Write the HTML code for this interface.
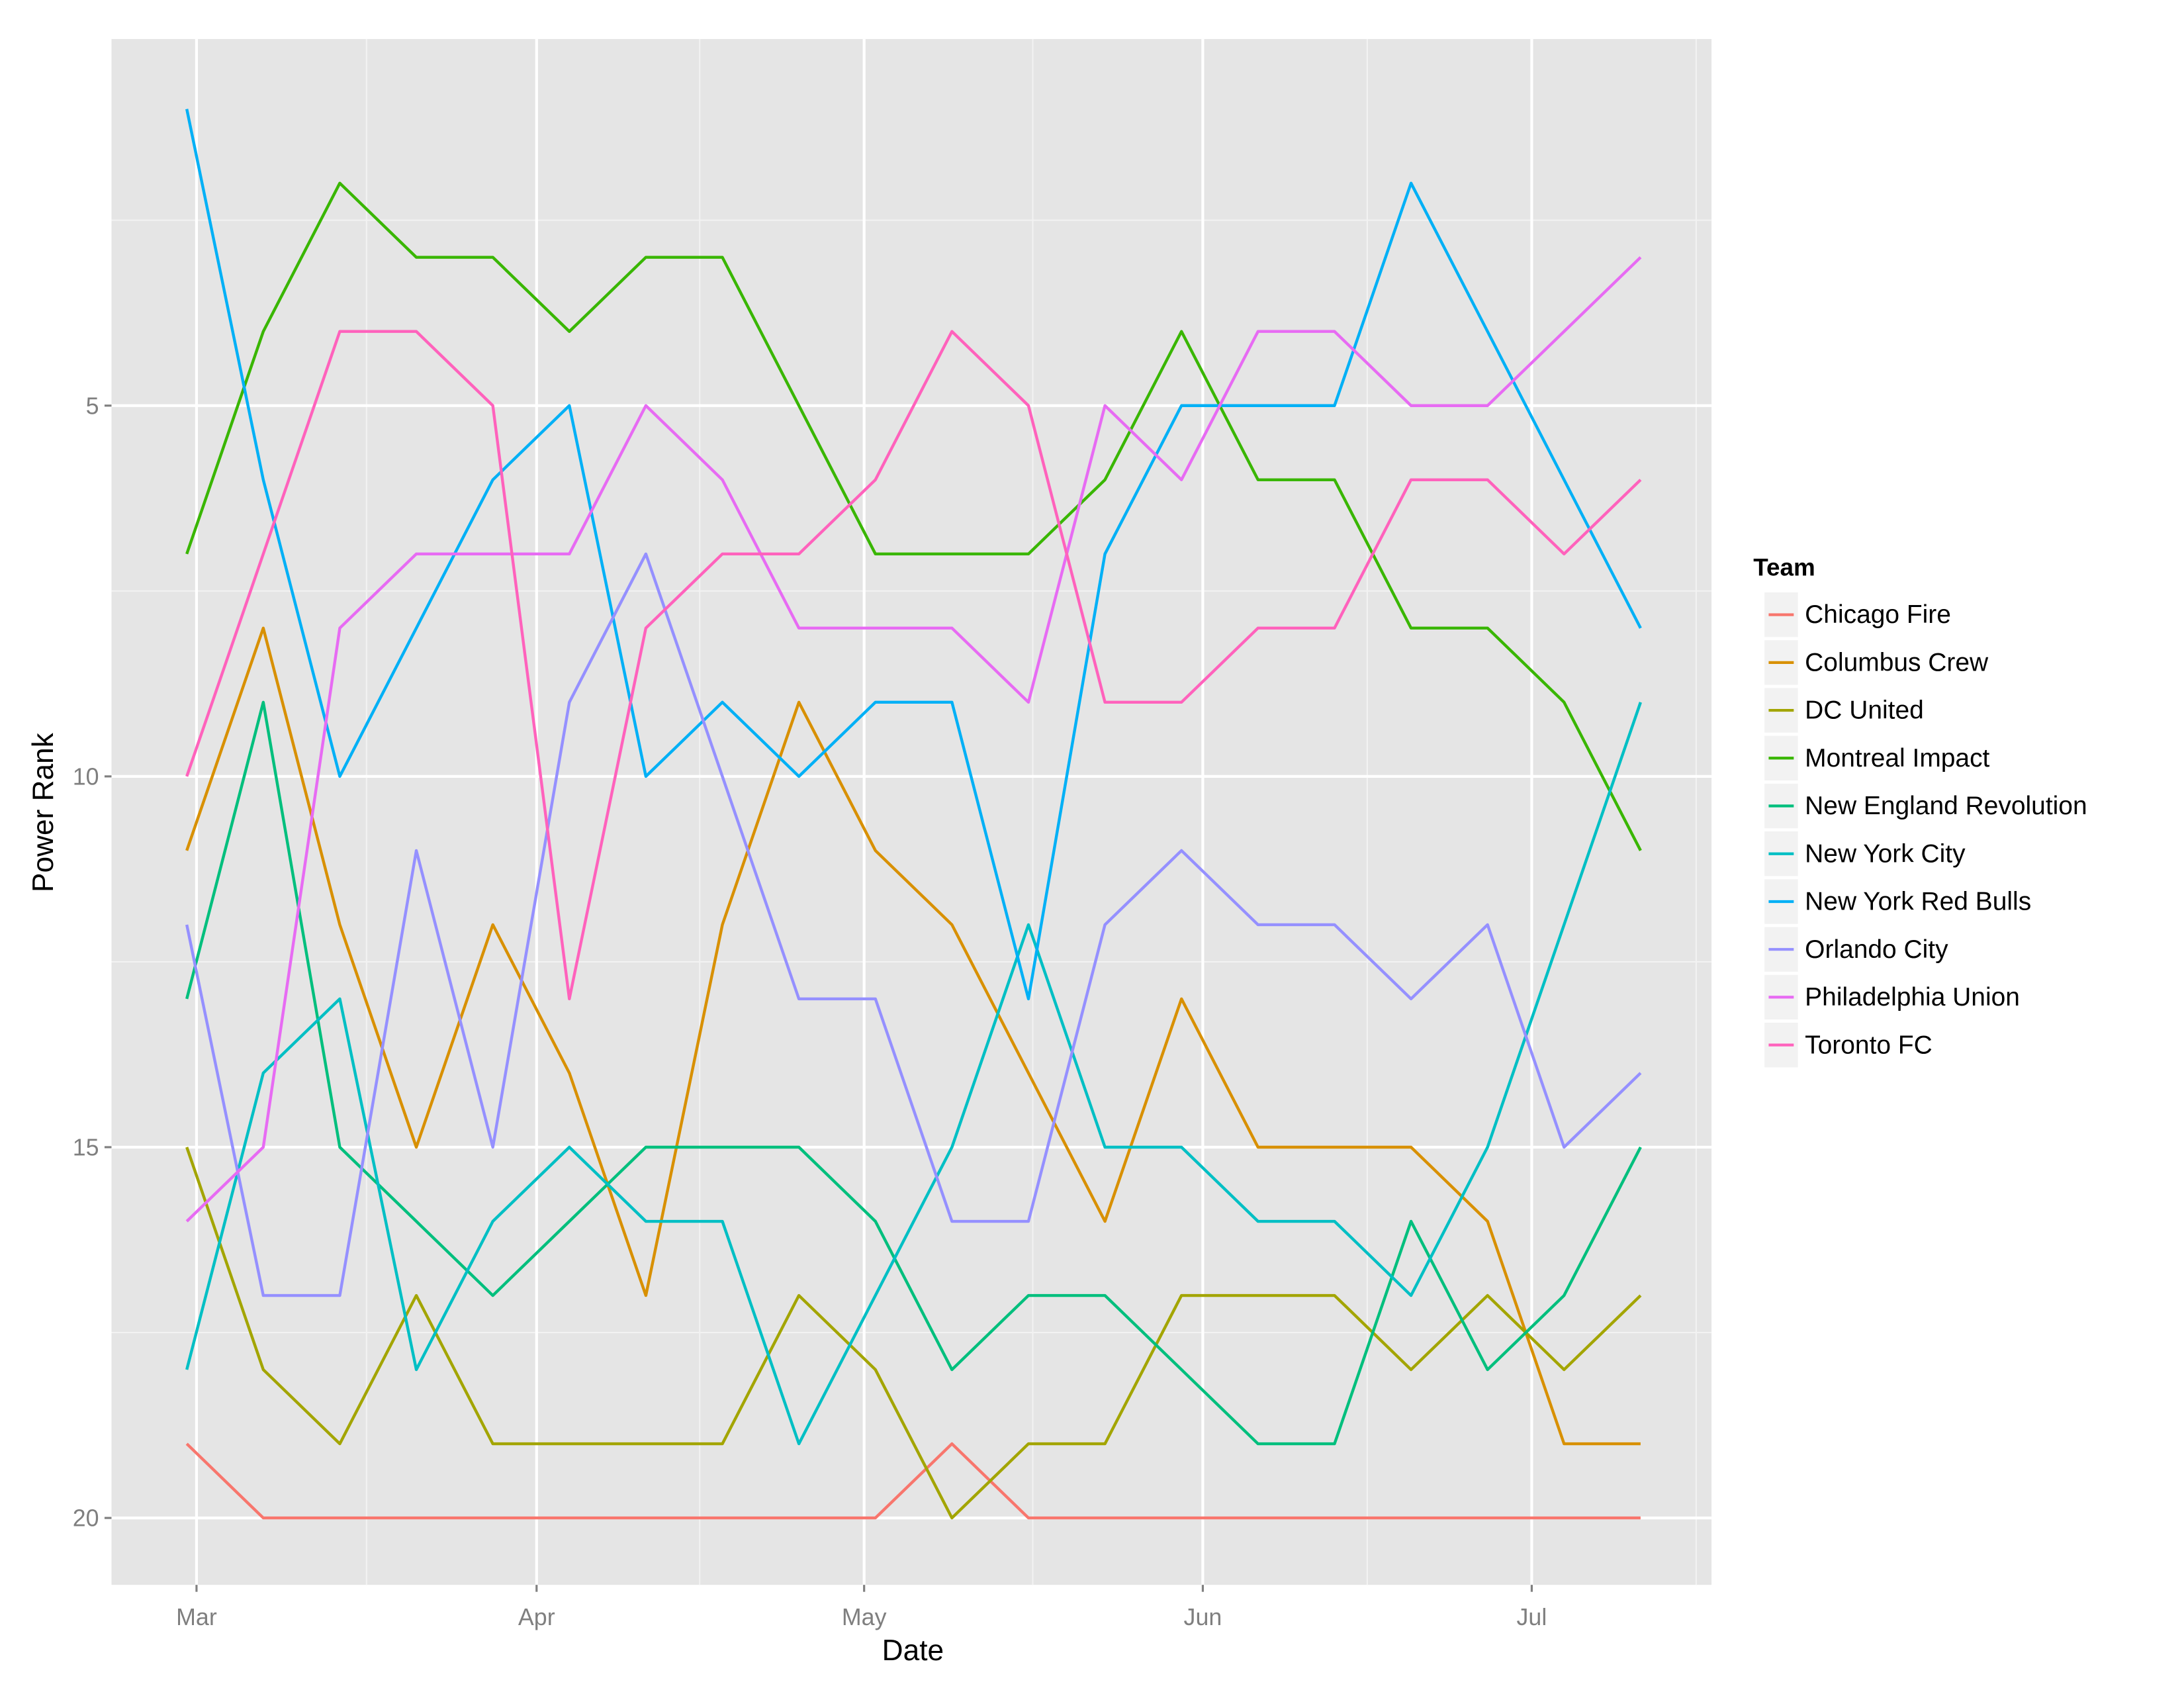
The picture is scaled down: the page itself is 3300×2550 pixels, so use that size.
<!DOCTYPE html>
<html><head><meta charset="utf-8"><style>html,body{margin:0;padding:0;background:#fff}svg{display:block}</style></head>
<body>
<svg width="3300" height="2550" viewBox="0 0 1567 1211" preserveAspectRatio="none" xmlns="http://www.w3.org/2000/svg" font-family="Liberation Sans, sans-serif">
<rect x="0" y="0" width="1584" height="1224" fill="#fff"/>
<rect x="80" y="28" width="1148" height="1109" fill="#e5e5e5"/>
<g stroke="#f2f2f2" stroke-width="1">
<line x1="80" x2="1228" y1="158" y2="158"/><line x1="80" x2="1228" y1="424" y2="424"/><line x1="80" x2="1228" y1="690" y2="690"/><line x1="80" x2="1228" y1="956" y2="956"/>
<line y1="28" y2="1137" x1="263" x2="263"/><line y1="28" y2="1137" x1="502" x2="502"/><line y1="28" y2="1137" x1="741" x2="741"/><line y1="28" y2="1137" x1="981" x2="981"/><line y1="28" y2="1137" x1="1217" x2="1217"/>
</g>
<g stroke="#fff" stroke-width="2">
<line x1="80" x2="1228" y1="291" y2="291"/><line x1="80" x2="1228" y1="557" y2="557"/><line x1="80" x2="1228" y1="823" y2="823"/><line x1="80" x2="1228" y1="1089" y2="1089"/>
<line y1="28" y2="1137" x1="141" x2="141"/><line y1="28" y2="1137" x1="385" x2="385"/><line y1="28" y2="1137" x1="620" x2="620"/><line y1="28" y2="1137" x1="863" x2="863"/><line y1="28" y2="1137" x1="1099" x2="1099"/>
</g>
<g transform="matrix(54.9,0,0,53.2,134,25)" fill="none" stroke-width="4.4" stroke-linejoin="round">
<polyline vector-effect="non-scaling-stroke" stroke="#F8766D" points="0,19 1,20 2,20 3,20 4,20 5,20 6,20 7,20 8,20 9,20 10,19 11,20 12,20 13,20 14,20 15,20 16,20 17,20 18,20 19,20"/>
<polyline vector-effect="non-scaling-stroke" stroke="#D89000" points="0,11 1,8 2,12 3,15 4,12 5,14 6,17 7,12 8,9 9,11 10,12 11,14 12,16 13,13 14,15 15,15 16,15 17,16 18,19 19,19"/>
<polyline vector-effect="non-scaling-stroke" stroke="#A3A500" points="0,15 1,18 2,19 3,17 4,19 5,19 6,19 7,19 8,17 9,18 10,20 11,19 12,19 13,17 14,17 15,17 16,18 17,17 18,18 19,17"/>
<polyline vector-effect="non-scaling-stroke" stroke="#39B600" points="0,7 1,4 2,2 3,3 4,3 5,4 6,3 7,3 8,5 9,7 10,7 11,7 12,6 13,4 14,6 15,6 16,8 17,8 18,9 19,11"/>
<polyline vector-effect="non-scaling-stroke" stroke="#00BF7D" points="0,13 1,9 2,15 3,16 4,17 5,16 6,15 7,15 8,15 9,16 10,18 11,17 12,17 13,18 14,19 15,19 16,16 17,18 18,17 19,15"/>
<polyline vector-effect="non-scaling-stroke" stroke="#00BFC4" points="0,18 1,14 2,13 3,18 4,16 5,15 6,16 7,16 8,19 9,17 10,15 11,12 12,15 13,15 14,16 15,16 16,17 17,15 18,12 19,9"/>
<polyline vector-effect="non-scaling-stroke" stroke="#00B0F6" points="0,1 1,6 2,10 3,8 4,6 5,5 6,10 7,9 8,10 9,9 10,9 11,13 12,7 13,5 14,5 15,5 16,2 17,4 18,6 19,8"/>
<polyline vector-effect="non-scaling-stroke" stroke="#9590FF" points="0,12 1,17 2,17 3,11 4,15 5,9 6,7 7,10 8,13 9,13 10,16 11,16 12,12 13,11 14,12 15,12 16,13 17,12 18,15 19,14"/>
<polyline vector-effect="non-scaling-stroke" stroke="#E76BF3" points="0,16 1,15 2,8 3,7 4,7 5,7 6,5 7,6 8,8 9,8 10,8 11,9 12,5 13,6 14,4 15,4 16,5 17,5 18,4 19,3"/>
<polyline vector-effect="non-scaling-stroke" stroke="#FF62BC" points="0,10 1,7 2,4 3,4 4,5 5,13 6,8 7,7 8,7 9,6 10,4 11,5 12,9 13,9 14,8 15,8 16,6 17,6 18,7 19,6"/>
</g>
<g stroke="#7f7f7f" stroke-width="1.5">
<line x1="75" x2="80" y1="291" y2="291"/><line x1="75" x2="80" y1="557" y2="557"/><line x1="75" x2="80" y1="823" y2="823"/><line x1="75" x2="80" y1="1089" y2="1089"/>
<line y1="1137" y2="1142" x1="141" x2="141"/><line y1="1137" y2="1142" x1="385" x2="385"/><line y1="1137" y2="1142" x1="620" x2="620"/><line y1="1137" y2="1142" x1="863" x2="863"/><line y1="1137" y2="1142" x1="1099" x2="1099"/>
</g>
<g fill="#7f7f7f" font-size="17" text-anchor="end">
<text x="71" y="297">5</text><text x="71" y="563">10</text><text x="71" y="829">15</text><text x="71" y="1095">20</text>
</g>
<g fill="#7f7f7f" font-size="17" text-anchor="middle">
<text x="141" y="1166">Mar</text><text x="385" y="1166">Apr</text><text x="620" y="1166">May</text><text x="863" y="1166">Jun</text><text x="1099" y="1166">Jul</text>
</g>
<text x="655" y="1191" font-size="21" text-anchor="middle">Date</text>
<text transform="translate(38,583) rotate(-90)" font-size="21" text-anchor="middle">Power Rank</text>
<text x="1258" y="413" font-size="17.5" font-weight="bold">Team</text>
<g font-size="18.5">
<g transform="translate(0,425)"><rect x="1266" width="24" height="32" fill="#f2f2f2"/><line x1="1269" x2="1287" y1="16" y2="16" stroke="#F8766D" stroke-width="2"/><text x="1295" y="22">Chicago Fire</text></g>
<g transform="translate(0,459.3)"><rect x="1266" width="24" height="32" fill="#f2f2f2"/><line x1="1269" x2="1287" y1="16" y2="16" stroke="#D89000" stroke-width="2"/><text x="1295" y="22">Columbus Crew</text></g>
<g transform="translate(0,493.6)"><rect x="1266" width="24" height="32" fill="#f2f2f2"/><line x1="1269" x2="1287" y1="16" y2="16" stroke="#A3A500" stroke-width="2"/><text x="1295" y="22">DC United</text></g>
<g transform="translate(0,527.9)"><rect x="1266" width="24" height="32" fill="#f2f2f2"/><line x1="1269" x2="1287" y1="16" y2="16" stroke="#39B600" stroke-width="2"/><text x="1295" y="22">Montreal Impact</text></g>
<g transform="translate(0,562.2)"><rect x="1266" width="24" height="32" fill="#f2f2f2"/><line x1="1269" x2="1287" y1="16" y2="16" stroke="#00BF7D" stroke-width="2"/><text x="1295" y="22">New England Revolution</text></g>
<g transform="translate(0,596.5)"><rect x="1266" width="24" height="32" fill="#f2f2f2"/><line x1="1269" x2="1287" y1="16" y2="16" stroke="#00BFC4" stroke-width="2"/><text x="1295" y="22">New York City</text></g>
<g transform="translate(0,630.8)"><rect x="1266" width="24" height="32" fill="#f2f2f2"/><line x1="1269" x2="1287" y1="16" y2="16" stroke="#00B0F6" stroke-width="2"/><text x="1295" y="22">New York Red Bulls</text></g>
<g transform="translate(0,665.1)"><rect x="1266" width="24" height="32" fill="#f2f2f2"/><line x1="1269" x2="1287" y1="16" y2="16" stroke="#9590FF" stroke-width="2"/><text x="1295" y="22">Orlando City</text></g>
<g transform="translate(0,699.4)"><rect x="1266" width="24" height="32" fill="#f2f2f2"/><line x1="1269" x2="1287" y1="16" y2="16" stroke="#E76BF3" stroke-width="2"/><text x="1295" y="22">Philadelphia Union</text></g>
<g transform="translate(0,733.7)"><rect x="1266" width="24" height="32" fill="#f2f2f2"/><line x1="1269" x2="1287" y1="16" y2="16" stroke="#FF62BC" stroke-width="2"/><text x="1295" y="22">Toronto FC</text></g>
</g>
</svg>
</body></html>
